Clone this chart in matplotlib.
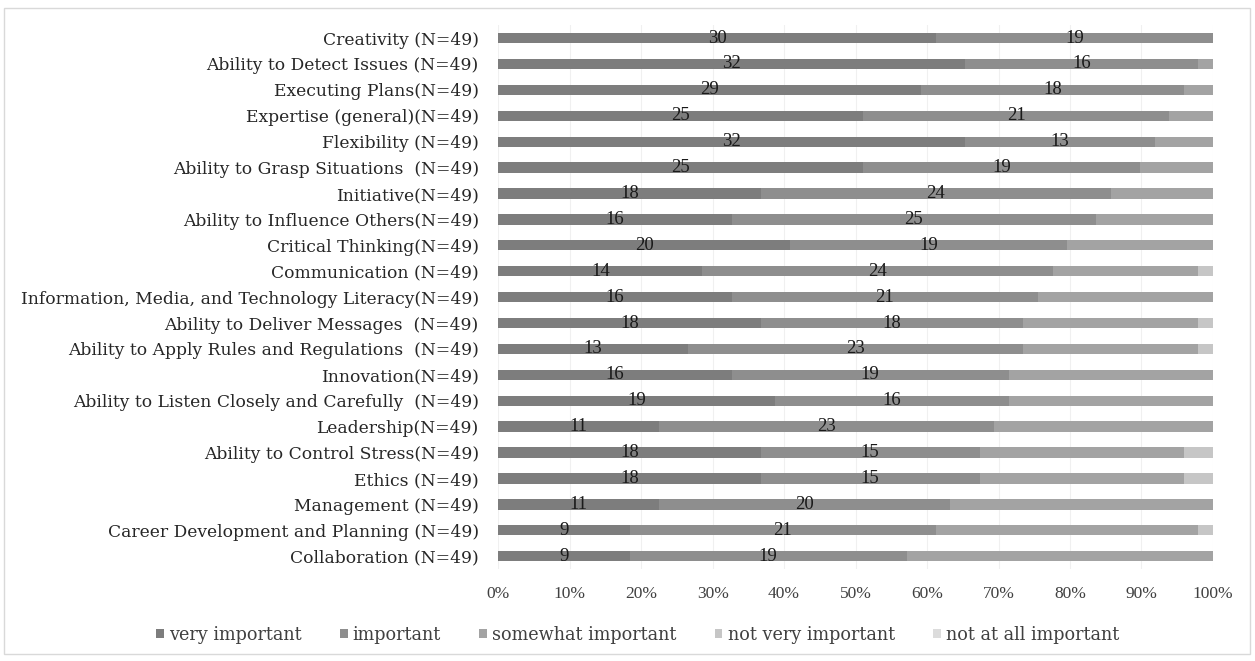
import numpy as np
import matplotlib.pyplot as plt
from matplotlib.patches import Rectangle

plt.rcParams['font.family'] = ['DejaVu Serif']

skills = ["Creativity (N=49)", "Ability to Detect Issues (N=49)", "Executing Plans(N=49)",
          "Expertise (general)(N=49)", "Flexibility (N=49)", "Ability to Grasp Situations  (N=49)",
          "Initiative(N=49)", "Ability to Influence Others(N=49)", "Critical Thinking(N=49)",
          "Communication (N=49)", "Information, Media, and Technology Literacy(N=49)",
          "Ability to Deliver Messages  (N=49)", "Ability to Apply Rules and Regulations  (N=49)",
          "Innovation(N=49)", "Ability to Listen Closely and Carefully  (N=49)", "Leadership(N=49)",
          "Ability to Control Stress(N=49)", "Ethics (N=49)", "Management (N=49)",
          "Career Development and Planning (N=49)", "Collaboration (N=49)"]

very_important = [30, 32, 29, 25, 32, 25, 18, 16, 20, 14, 16, 18, 13, 16, 19, 11, 18, 18, 11, 9, 9]
important = [19, 16, 18, 21, 13, 19, 24, 25, 19, 24, 21, 18, 23, 19, 16, 23, 15, 15, 20, 21, 19]
somewhat_important = [0, 1, 2, 3, 4, 5, 7, 8, 10, 10, 12, 12, 12, 14, 14, 15, 14, 14, 18, 18, 21]
not_very_important = [0, 0, 0, 0, 0, 0, 0, 0, 0, 1, 0, 1, 1, 0, 0, 0, 2, 2, 0, 1, 0]
not_at_all_important = [0, 0, 0, 0, 0, 0, 0, 0, 0, 0, 0, 0, 0, 0, 0, 0, 0, 0, 0, 0, 0]

series = [("very important", very_important, "#7d7d7d"),
          ("important", important, "#8e8e8e"),
          ("somewhat important", somewhat_important, "#a3a3a3"),
          ("not very important", not_very_important, "#c6c6c6"),
          ("not at all important", not_at_all_important, "#dcdcdc")]

# narrow serif for the numbers, wider serif for the words
num_font = ['Liberation Serif', 'DejaVu Serif']

fig = plt.figure(figsize=(12.55, 6.61), dpi=100)
fig.patches.append(Rectangle((0.003, 0.01), 0.993, 0.978, transform=fig.transFigure,
                             fill=False, edgecolor="#d9d9d9", linewidth=1))
ax = fig.add_axes([0.397, 0.139, 0.5695, 0.823])

y = np.arange(len(skills))
totals = np.sum([s[1] for s in series], axis=0)
left = np.zeros(len(skills))
for i, (name, vals, col) in enumerate(series):
    share = np.array(vals) / totals
    ax.barh(y, share, left=left, height=0.4, color=col, label=name, zorder=2)
    if i < 2:
        for yy, l, w, v in zip(y, left, share, vals):
            ax.text(l + w / 2, yy, str(v), ha="center", va="center", fontsize=13.5,
                    family=num_font, color="#1a1a1a", zorder=3)
    left += share

ax.set_xlim(0, 1)
ax.set_ylim(len(skills) - 0.5, -0.5)
ax.set_yticks(y)
ax.set_yticklabels(skills, fontsize=12.3, color="#262626")
ax.set_xticks(np.linspace(0, 1, 11))
ax.set_xticklabels([f"{p}%" for p in range(0, 101, 10)], fontsize=12.5, family=num_font,
                   color="#404040")
ax.tick_params(length=0)
ax.tick_params(axis="y", pad=14)
ax.tick_params(axis="x", pad=12)
ax.grid(axis="x", color="#f0f0f0", linewidth=0.8, zorder=0)
for sp in ax.spines.values():
    sp.set_visible(False)

fig.legend(loc="center", bbox_to_anchor=(0.508, 0.04), ncol=5, frameon=False, fontsize=12.7,
           handlelength=0.45, handleheight=0.45, handletextpad=0.3, columnspacing=2.15,
           labelcolor="#404040")

fig.savefig("out.png", dpi=100)
